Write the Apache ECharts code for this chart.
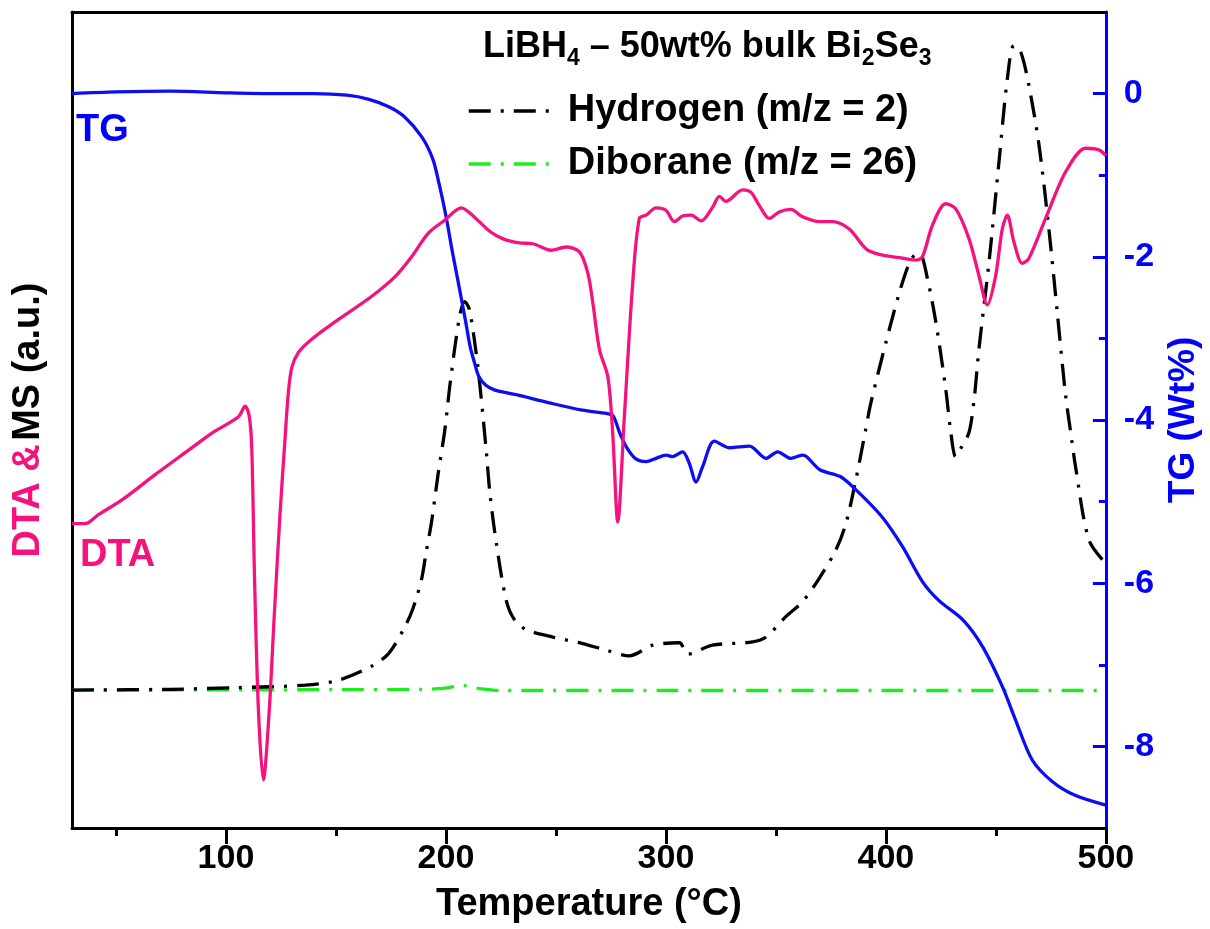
<!DOCTYPE html>
<html>
<head>
<meta charset="utf-8">
<script src="https://cdn.jsdelivr.net/npm/echarts@6/dist/echarts.min.js"></script>
<style>
  html, body { margin: 0; padding: 0; background: #fff; }
  #chart { width: 1210px; height: 929px; }
</style>
</head>
<body>
<div id="chart"></div>
<script>
// TG: mass change (Wt%) vs temperature (°C)
const tgTemp = [30, 50, 75, 100, 120, 140, 155, 165, 174, 181, 189, 194, 197, 200, 203, 206, 209, 211, 213, 215, 218, 222, 232, 247, 262, 273, 276, 279, 282, 286, 291, 295.5, 300, 303, 307.6, 310.6, 313.7, 316.7, 322, 328.8, 338, 345.5, 350.8, 356.8, 362, 364, 370, 379, 385, 398, 407.5, 416.6, 424, 435, 444, 453, 459, 466.6, 475.6, 486, 500];
const tgWt = [0.0, 0.02, 0.03, 0.01, 0.0, 0.0, -0.02, -0.07, -0.16, -0.28, -0.53, -0.8, -1.12, -1.5, -1.95, -2.37, -2.8, -3.1, -3.3, -3.47, -3.57, -3.63, -3.69, -3.79, -3.88, -3.92, -3.95, -4.16, -4.33, -4.47, -4.51, -4.47, -4.43, -4.45, -4.39, -4.53, -4.76, -4.57, -4.26, -4.34, -4.32, -4.47, -4.39, -4.47, -4.43, -4.45, -4.61, -4.69, -4.82, -5.18, -5.55, -5.98, -6.21, -6.45, -6.78, -7.27, -7.68, -8.17, -8.43, -8.6, -8.72];

// DTA signal (a.u.)
const dtaTemp = [30, 36, 42, 52.7, 67.8, 83, 93.6, 105.7, 108.7, 110.5, 111.7, 113, 114.8, 117, 119.6, 122, 124.6, 126.6, 128.4, 130, 133, 139, 151, 166, 177, 184.4, 192, 199.5, 207, 212, 220, 226, 233.4, 239.5, 247.8, 254.6, 260.7, 264.5, 266.8, 269.8, 273.6, 275.8, 278.1, 281.1, 284.9, 287.9, 291, 295.5, 300, 303.8, 307.6, 311.4, 316, 321.3, 324.3, 327.3, 334.9, 338.7, 342.4, 347, 351.5, 356.8, 362.1, 369.7, 375.7, 383.3, 390.9, 396.9, 406, 413.6, 416.6, 421.2, 427.2, 431.7, 437.8, 442.3, 446.1, 449.9, 452.9, 455.2, 458.2, 462, 465, 472.6, 481.7, 490.8, 496.8, 500];
const dtaSignal = [37.3, 37.3, 38.4, 40.2, 43.3, 46.3, 48.4, 50.4, 51.7, 50.6, 46.7, 30.4, 14.1, 5.9, 14.1, 26.3, 38.6, 46.7, 53.5, 56.5, 58.3, 59.9, 62.3, 65.1, 67.6, 70.0, 72.9, 74.5, 76.0, 75.1, 73.1, 72.2, 71.7, 71.6, 70.8, 71.2, 70.6, 68.0, 64.3, 58.6, 55.3, 48.4, 37.5, 50.4, 66.8, 74.7, 75.1, 76.0, 75.7, 74.3, 75.0, 75.1, 74.4, 76.1, 77.4, 76.8, 78.2, 77.9, 76.3, 74.7, 75.5, 75.8, 74.9, 74.3, 74.3, 73.4, 71.0, 70.3, 69.9, 69.6, 70.0, 73.9, 76.5, 75.9, 72.2, 67.7, 64.1, 67.7, 73.4, 75.1, 71.8, 69.2, 69.8, 74.7, 80.4, 83.3, 83.1, 82.4];

// MS: hydrogen (m/z = 2)
const h2Temp = [30, 75, 105, 136, 151, 166, 174, 181.4, 185, 189, 191, 193.5, 196.5, 199.5, 202, 206.2, 208.5, 210.7, 214.5, 218.3, 220, 222.9, 227.4, 231.2, 236.5, 248.6, 262.2, 272.8, 283.4, 294, 306.1, 309.9, 321.2, 339.4, 345.5, 354.5, 362, 369.7, 377.3, 381.8, 386.3, 390.5, 393.1, 400, 406, 410, 413, 415.5, 418.9, 422.7, 427.2, 429.5, 431.7, 434, 437.8, 440.1, 442.3, 446.9, 451.4, 455.2, 458.2, 461.3, 465, 469.6, 474.1, 477.9, 481.7, 484, 486.2, 492.3, 500];
const h2Signal = [16.9, 17.0, 17.2, 17.5, 18.1, 19.8, 21.4, 24.7, 26.9, 30.6, 33.8, 37.6, 43.5, 48.8, 54.7, 62.7, 64.5, 63.5, 56.5, 46.3, 41.0, 34.9, 27.9, 25.5, 24.3, 23.4, 22.6, 21.8, 21.1, 22.4, 22.7, 21.3, 22.4, 22.8, 23.4, 25.9, 27.7, 30.6, 34.1, 37.3, 42.6, 48.4, 52.0, 59.5, 65.5, 68.8, 70.2, 70.3, 67.3, 62.0, 53.8, 48.5, 45.5, 46.5, 48.5, 52.5, 58.7, 69.4, 81.6, 91.8, 95.9, 95.1, 91.0, 83.7, 73.4, 63.2, 53.0, 48.5, 44.3, 35.3, 32.4];

// MS: diborane (m/z = 26)
const b2h6Temp = [30, 150, 190, 198.6, 204, 207.7, 211.5, 216, 225, 300, 400, 500];
const b2h6Signal = [16.9, 16.95, 17.0, 17.1, 17.35, 17.45, 17.3, 17.05, 16.85, 16.85, 16.85, 16.85];

// axis ticks
const tempMajorTicks = [100, 200, 300, 400, 500];
const tempMinorTicks = [50, 150, 250, 350, 450];
const tgMajorTicks = [-8, -6, -4, -2, 0];
const tgMinorTicks = [-7, -5, -3, -1];

const FONT = '"Liberation Sans", Arial, Helvetica, sans-serif';
const PINK = '#f5127d';
const BLUE = '#0d0df2';
const AXIS_BLUE = '#0000ff';
const GREEN = '#1eec1e';
const DASH_DOT = [22, 10, 3, 10];

const pairs = (xs, ys) => xs.map((x, i) => [x, ys[i]]);
const bold = (size, color) => ({ fontFamily: FONT, fontWeight: 'bold', fontSize: size, color: color });

const chart = echarts.init(document.getElementById('chart'), null, { renderer: 'canvas' });

chart.setOption({
  backgroundColor: '#ffffff',
  animation: false,
  grid: { left: 72, right: 103, top: 12, bottom: 101, containLabel: false },
  title: {
    left: 478, top: 19,
    text: '{b|LiBH}{s|4}{b| \u2013 50wt% bulk Bi}{s|2}{b|Se}{s|3}',
    textStyle: {
      rich: {
        b: Object.assign(bold(36, '#000'), { lineHeight: 46, verticalAlign: 'middle' }),
        s: Object.assign(bold(23, '#000'), { lineHeight: 46, verticalAlign: 'bottom' })
      }
    }
  },
  legend: {
    orient: 'vertical',
    left: 462, top: 87,
    itemWidth: 90, itemHeight: 20, itemGap: 15,
    data: ['Hydrogen (m/z = 2)', 'Diborane (m/z = 26)'],
    itemStyle: { opacity: 0 },
    lineStyle: { width: 3.5 },
    textStyle: Object.assign(bold(38, '#000'), { padding: [0, 0, 0, 4] })
  },
  graphic: [
    { type: 'text', left: 76, top: 112, style: { text: 'TG', fill: AXIS_BLUE, font: 'bold 38px ' + FONT } },
    { type: 'text', left: 80, top: 537, style: { text: 'DTA', fill: PINK, font: 'bold 38px ' + FONT } }
  ],
  xAxis: [
    {
      type: 'value', position: 'bottom', min: 30, max: 500,
      axisLine: { onZero: false, lineStyle: { color: '#000', width: 3 } },
      axisTick: { show: true, customValues: tempMajorTicks, length: 16, lineStyle: { color: '#000', width: 3 } },
      axisLabel: Object.assign({ customValues: tempMajorTicks, margin: 14 }, bold(34, '#000')),
      splitLine: { show: false },
      name: 'Temperature (\u00B0C)', nameLocation: 'middle', nameGap: 58,
      nameTextStyle: bold(38, '#000')
    },
    {
      type: 'value', position: 'bottom', min: 30, max: 500,
      axisLine: { show: false, onZero: false },
      axisTick: { show: true, customValues: tempMinorTicks, length: 8, lineStyle: { color: '#000', width: 3 } },
      axisLabel: { show: false },
      splitLine: { show: false }
    },
    {
      type: 'value', position: 'top', min: 30, max: 500,
      axisLine: { onZero: false, lineStyle: { color: '#000', width: 3 } },
      axisTick: { show: false }, axisLabel: { show: false }, splitLine: { show: false }
    }
  ],
  yAxis: [
    {
      type: 'value', position: 'left', min: 0, max: 100,
      axisLine: { show: true, onZero: false, lineStyle: { color: '#000', width: 3 } },
      axisTick: { show: false }, axisLabel: { show: false }, splitLine: { show: false },
      name: '{p|DTA &} {k|MS (a.u.)}', nameLocation: 'middle', nameGap: 24, nameRotate: 90,
      nameTextStyle: { rich: { p: bold(38, PINK), k: bold(38, '#000') } }
    },
    {
      type: 'value', position: 'right', min: -9, max: 1,
      axisLine: { show: true, onZero: false, lineStyle: { color: AXIS_BLUE, width: 3 } },
      axisTick: { show: true, inside: true, customValues: tgMajorTicks, length: 13, lineStyle: { color: AXIS_BLUE, width: 3 } },
      axisLabel: Object.assign({ customValues: tgMajorTicks, margin: 18 }, bold(34, AXIS_BLUE)),
      splitLine: { show: false },
      name: 'TG (Wt%)', nameLocation: 'middle', nameGap: 57, nameRotate: 90,
      nameTextStyle: bold(37, AXIS_BLUE)
    },
    {
      type: 'value', position: 'right', min: -9, max: 1,
      axisLine: { show: false, onZero: false },
      axisTick: { show: true, inside: true, customValues: tgMinorTicks, length: 7, lineStyle: { color: AXIS_BLUE, width: 3 } },
      axisLabel: { show: false }, splitLine: { show: false }
    }
  ],
  series: [
    {
      name: 'Diborane (m/z = 26)', type: 'line', xAxisIndex: 0, yAxisIndex: 0,
      data: pairs(b2h6Temp, b2h6Signal), symbol: 'none', smooth: 0.3, z: 2,
      lineStyle: { color: GREEN, width: 3.3, type: DASH_DOT }, itemStyle: { color: GREEN }
    },
    {
      name: 'Hydrogen (m/z = 2)', type: 'line', xAxisIndex: 0, yAxisIndex: 0,
      data: pairs(h2Temp, h2Signal), symbol: 'none', smooth: 0.3, z: 3,
      lineStyle: { color: '#000', width: 3.3, type: DASH_DOT }, itemStyle: { color: '#000' }
    },
    {
      name: 'TG', type: 'line', xAxisIndex: 0, yAxisIndex: 1,
      data: pairs(tgTemp, tgWt), symbol: 'none', smooth: 0.3, z: 4,
      lineStyle: { color: BLUE, width: 3.3 }, itemStyle: { color: BLUE }
    },
    {
      name: 'DTA', type: 'line', xAxisIndex: 0, yAxisIndex: 0,
      data: pairs(dtaTemp, dtaSignal), symbol: 'none', smooth: 0.3, z: 5,
      lineStyle: { color: PINK, width: 3.3 }, itemStyle: { color: PINK }
    }
  ]
});
</script>
</body>
</html>
